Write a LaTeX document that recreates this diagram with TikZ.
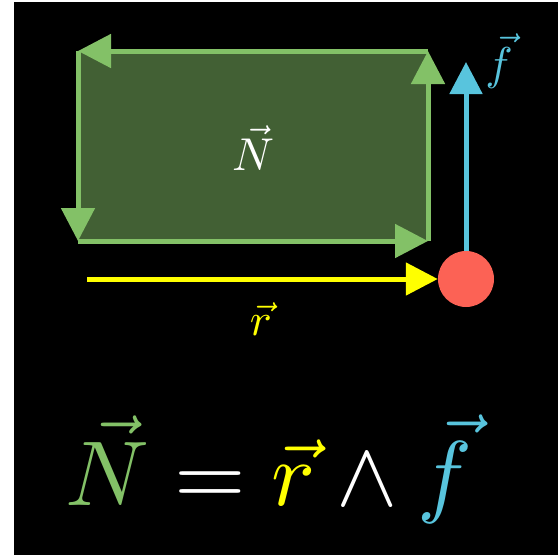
\documentclass[tikz,border=0pt]{standalone}
\usepackage{amsmath}
\usepackage{graphicx}
\usetikzlibrary{arrows.meta, positioning}
\definecolor{mgreen}{HTML}{83C167}
\definecolor{myellow}{HTML}{FFFF00}
\definecolor{mblue}{HTML}{58C4DD}
\definecolor{mred}{HTML}{FC6255}
\newcommand{\biglbl}[1]{\scalebox{4.6}{#1}}
\newcommand{\hugelbl}[1]{\scalebox{9.2}{#1}}

\begin{document}
\begin{tikzpicture}[
    x=1pt, y=-1pt,
    edge/.style={line width=5pt, mgreen, -{Triangle[length=33pt, width=33pt]}},
    vecarr/.style={line width=5pt, -{Triangle[length=32pt, width=32pt]}},
    lbl/.style={anchor=base, inner sep=0pt}
]
    % page and background
    \fill[white] (0,0) rectangle (558,555);
    \useasboundingbox (0,0) rectangle (558,555);
    \fill[black] (14,2) rectangle (558,555);

    % torque rectangle
    \coordinate (tl) at (78,51);
    \coordinate (tr) at (428,51);
    \coordinate (bl) at (78,241);
    \coordinate (br) at (428,241);
    \fill[mgreen!50!black] (tl) rectangle (br);
    \draw[edge] (tr) -- (tl);
    \draw[edge] (tl) -- (bl);
    \draw[edge] (bl) -- (br);
    \draw[edge] (br) -- (tr);
    \node[lbl, text=white] (nlab) at (253,170) {\biglbl{$\vec{N}$}};

    % mass, position and force
    \node[circle, fill=mred, minimum size=56pt, inner sep=0pt] (mass) at (466,279) {};
    \coordinate (rstart) at (87,279);
    \coordinate (ftip) at (466,62);
    \draw[vecarr, myellow] (rstart) -- (mass.west);
    \draw[vecarr, mblue] (mass.north) -- (ftip);
    \node[lbl, text=myellow] (rlab) at (261,335) {\biglbl{$\vec{r}$}};
    \node[lbl, text=mblue] (flab) at (499,79) {\biglbl{$\vec{f}$}};

    % formula
    \node[lbl, text=white] (formula) at (269,505)
        {\hugelbl{$\textcolor{mgreen}{\vec{N}} = \textcolor{myellow}{\vec{r}} \wedge \textcolor{mblue}{\vec{f}}$}};
\end{tikzpicture}
\end{document}
